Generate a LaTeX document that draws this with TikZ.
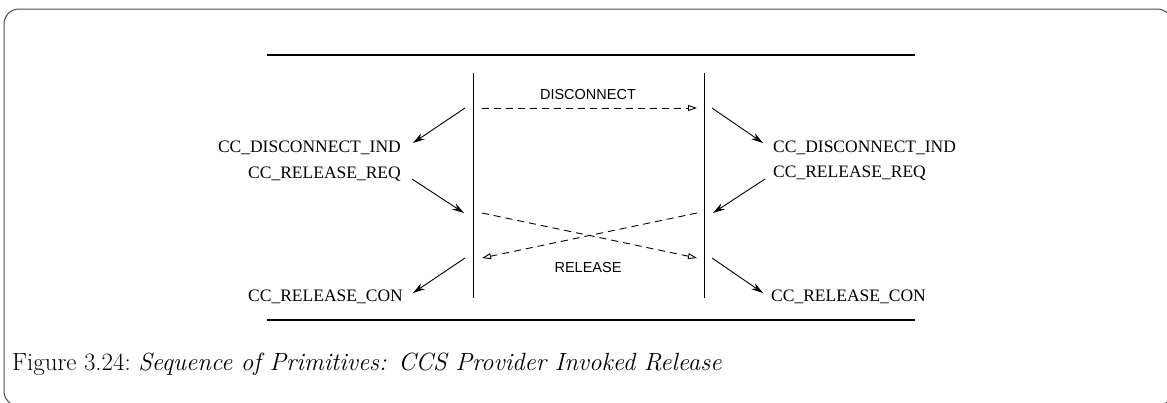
\documentclass[tikz,border=0pt]{standalone}
\usepackage{fontspec}
\usetikzlibrary{arrows.meta}
\newfontfamily\labfont{Liberation Serif}
\newfontfamily\msgfont{Liberation Sans}
\begin{document}
\begin{tikzpicture}[x=1pt,y=-1pt,
  prim/.style={font=\labfont\fontsize{17.5}{20}\selectfont, inner sep=0pt},
  msg/.style={font=\msgfont\fontsize{14.5}{16}\selectfont, inner sep=0pt},
  capt/.style={font=\fontsize{24.9}{29}\selectfont, inner sep=0pt, anchor=west},
  life/.style={line width=1pt},
  rulestyle/.style={line width=1.5pt},
  call/.style={line width=0.9pt, -{Stealth[length=12pt,width=7pt]}},
  pdu/.style={line width=0.9pt, dash pattern=on 7pt off 5pt, -{Triangle[open,length=9pt,width=6pt]}},
  framestyle/.style={line width=1pt, black!70, rounded corners=15pt}
]
\useasboundingbox (0,0) rectangle (1167,402);
\draw[framestyle] (4,9) rectangle (1172,406);

% rules
\coordinate (topL) at (267,55);
\coordinate (topR) at (915,55);
\coordinate (botL) at (267,320);
\coordinate (botR) at (915,320);
\draw[rulestyle] (topL) -- (topR);
\draw[rulestyle] (botL) -- (botR);

% lifelines
\coordinate (Lt) at (473,73);
\coordinate (Lb) at (473,298);
\coordinate (Rt) at (704,73);
\coordinate (Rb) at (704,298);
\draw[life] (Lt) -- (Lb);
\draw[life] (Rt) -- (Rb);

% labels
\node[prim, anchor=east] (lind) at (401,148) {CC\_DISCONNECT\_IND};
\node[prim, anchor=east] (lreq) at (401,174) {CC\_RELEASE\_REQ};
\node[prim, anchor=east] (lcon) at (403,297) {CC\_RELEASE\_CON};
\node[prim, anchor=west] (rind) at (773,148) {CC\_DISCONNECT\_IND};
\node[prim, anchor=west] (rreq) at (773,173) {CC\_RELEASE\_REQ};
\node[prim, anchor=west] (rcon) at (771,297) {CC\_RELEASE\_CON};
\node[msg] (disc) at (588,95) {DISCONNECT};
\node[msg] (rel) at (588,268) {RELEASE};

% arrow end points
\coordinate (a1s) at (465,108); \coordinate (a1e) at (413,143);
\coordinate (a2s) at (412,179); \coordinate (a2e) at (464,213);
\coordinate (a3s) at (465,258); \coordinate (a3e) at (413,293);
\coordinate (b1s) at (712,108); \coordinate (b1e) at (763,143);
\coordinate (b2s) at (765,179); \coordinate (b2e) at (713,213);
\coordinate (b3s) at (712,258); \coordinate (b3e) at (763,293);
\coordinate (d1s) at (482,108); \coordinate (d1e) at (697,108);
\coordinate (d2s) at (482,213); \coordinate (d2e) at (697,258);
\coordinate (d3s) at (697,213); \coordinate (d3e) at (482,258);

\draw[call] (a1s) -- (a1e);
\draw[call] (a2s) -- (a2e);
\draw[call] (a3s) -- (a3e);
\draw[call] (b1s) -- (b1e);
\draw[call] (b2s) -- (b2e);
\draw[call] (b3s) -- (b3e);
\draw[pdu] (d1s) -- (d1e);
\draw[pdu] (d2s) -- (d2e);
\draw[pdu] (d3s) -- (d3e);

% caption
\node[capt] (cap) at (12,364) {Figure 3.24:\ \textit{Sequence of Primitives: CCS Provider Invoked Release}};
\end{tikzpicture}
\end{document}
